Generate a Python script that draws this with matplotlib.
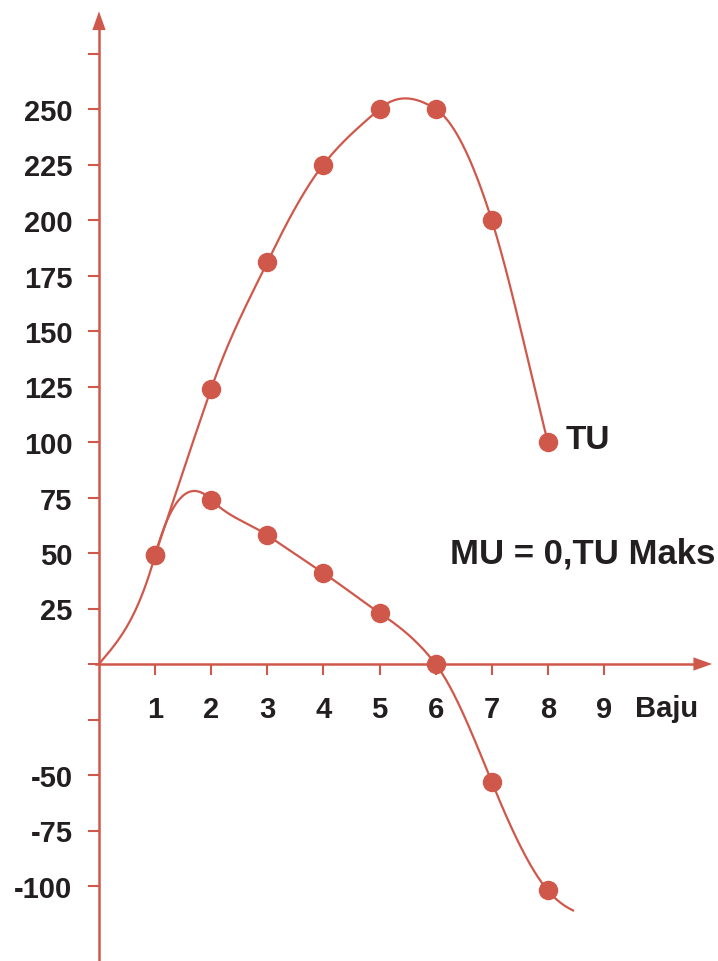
import numpy as np
import matplotlib.pyplot as plt

# Data
units = [1, 2, 3, 4, 5, 6, 7, 8]
tu = [49, 124, 181, 225, 250, 250, 200, 100]
mu = [49, 74, 58, 41, 23, 0, -53, -102]
y_ticks = [-100, -75, -50, -25, 0, 25, 50, 75, 100, 125, 150, 175, 200, 225, 250, 275]
y_labels = ['-100', '-75', '-50', '', '', '25', '50', '75', '100', '125', '150',
            '175', '200', '225', '250', '']
x_ticks = [1, 2, 3, 4, 5, 6, 7, 8, 9]

# curve shape: slope of each curve at its points
tu_slope = [75, 72, 52, 32, 22, -16, -80, -100]
mu_start = (0, 0)
mu_end = (8.45, -111)
mu_slope = [30, 90, -25, -17, -17, -17, -33, -62, -30, -12]

red = '#D0584B'
ink = '#231f20'


def hermite(xs, ys, ss, n=60):
    px, py = [], []
    for i in range(len(xs) - 1):
        h = xs[i + 1] - xs[i]
        t = np.linspace(0, 1, n)
        h00 = 2 * t**3 - 3 * t**2 + 1
        h10 = t**3 - 2 * t**2 + t
        h01 = -2 * t**3 + 3 * t**2
        h11 = t**3 - t**2
        px.append(xs[i] + t * h)
        py.append(h00 * ys[i] + h10 * h * ss[i] + h01 * ys[i + 1] + h11 * h * ss[i + 1])
    return np.concatenate(px), np.concatenate(py)


fig = plt.figure(figsize=(7.18, 9.62), dpi=100)
ax = fig.add_axes([0, 0, 1, 1])
ax.set_xlim(-99 / 56.1, (718 - 99) / 56.1)
ax.set_ylim(-(962 - 665) / 2.22, 665 / 2.22)

# axes through the origin, with arrow heads
for s in ['top', 'right']:
    ax.spines[s].set_visible(False)
ax.spines['left'].set_position(('data', 0))
ax.spines['bottom'].set_position(('data', 0))
ax.spines['left'].set_bounds(-140, 288)
ax.spines['bottom'].set_bounds(-0.05, 10.7)
for s in ['left', 'bottom']:
    ax.spines[s].set_color(red)
    ax.spines[s].set_linewidth(1.8)
head = dict(arrowstyle='-|>,head_length=0.9,head_width=0.32', mutation_scale=15,
            color=red, lw=0, shrinkA=0, shrinkB=0)
ax.annotate('', xy=(0, 294), xytext=(0, 280), arrowprops=head, annotation_clip=False)
ax.annotate('', xy=(10.93, 0), xytext=(10.5, 0), arrowprops=head, annotation_clip=False)

ax.set_yticks(y_ticks)
ax.set_yticklabels(y_labels)
ax.set_xticks(x_ticks)
ax.tick_params(axis='both', colors=red, width=1.5, length=8,
               labelcolor=ink, labelsize=21)
ax.tick_params(axis='y', pad=11)
ax.tick_params(axis='x', pad=14)
for lab in ax.get_xticklabels() + ax.get_yticklabels():
    lab.set_fontweight('bold')
    lab.set_fontfamily('Liberation Sans')

# TU curve (its first stretch is shared with MU)
xx, yy = hermite(units, tu, tu_slope)
ax.plot(xx, yy, color=red, lw=1.6)
ax.plot(units, tu, 'o', color=red, ms=13)

# MU curve
mx = [mu_start[0]] + units + [mu_end[0]]
my = [mu_start[1]] + mu + [mu_end[1]]
xx, yy = hermite(mx, my, mu_slope)
ax.plot(xx, yy, color=red, lw=1.6)
ax.plot(units, mu, 'o', color=red, ms=13)

font = dict(family='Liberation Sans', weight='bold', color=ink)
ax.text(9.55, -13.5, 'Baju', fontsize=21, va='top', ha='left', **font)
ax.text(8.32, 101, 'TU', fontsize=24, va='center', ha='left', **font)
ax.text(6.26, 50, 'MU = 0,TU Maks', fontsize=25, va='center', ha='left', **font)

fig.savefig('out.png', dpi=100)
